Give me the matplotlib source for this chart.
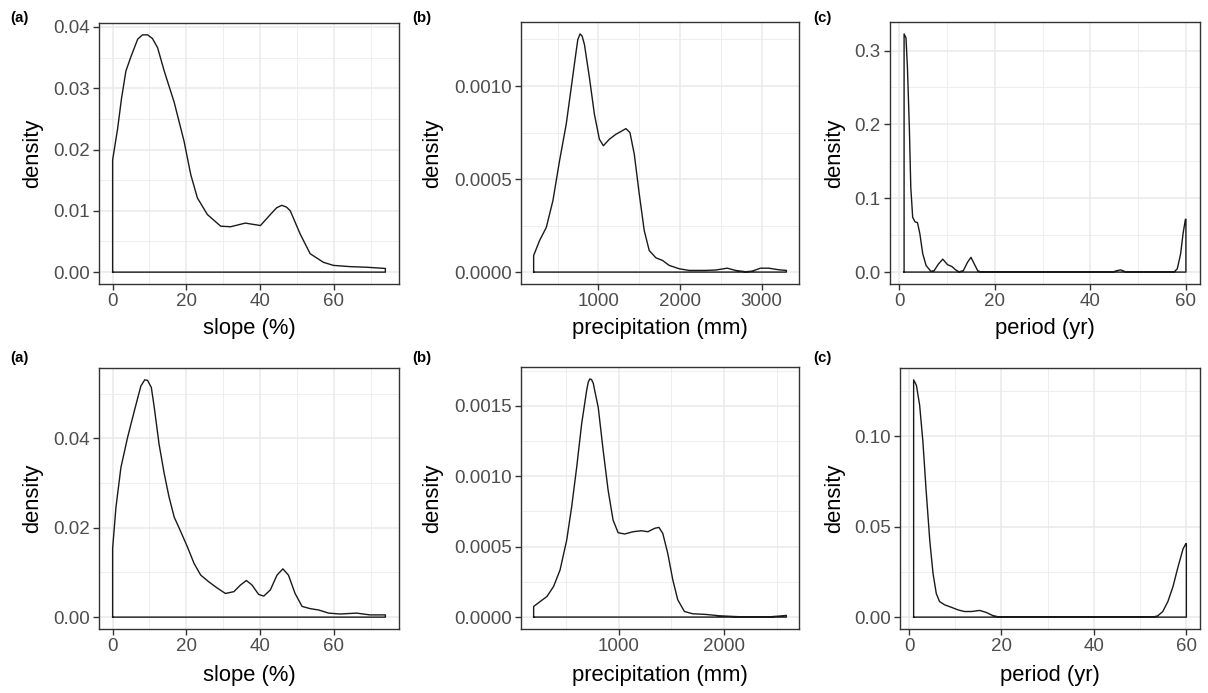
import matplotlib
matplotlib.use("Agg")
import matplotlib.pyplot as plt

plt.rcParams['font.family'] = ['Liberation Sans', 'DejaVu Sans']

W, H = 1208, 693

# ---------------- data ----------------
slope_top_x = [0, 1.35, 2.4, 3.6, 5.0, 5.9, 6.8, 8.1, 9.5, 10.8, 12.2, 14, 16.7, 19.4, 21.2, 23,
               25.7, 29.3, 32, 36, 40.1, 42.8, 44.5, 45.9, 47.2, 48.2, 50.9, 53.6, 57.2, 59.9,
               64.4, 68.9, 74]
slope_top_y = [0.0183, 0.0234, 0.0283, 0.0328, 0.0352, 0.0366, 0.0380, 0.0387, 0.0387, 0.0381,
               0.0366, 0.0328, 0.0277, 0.0213, 0.0159, 0.0121, 0.0094, 0.0075, 0.0074, 0.0080,
               0.0076, 0.0094, 0.0105, 0.0109, 0.0106, 0.0100, 0.0062, 0.0030, 0.0016, 0.0011,
               0.0009, 0.0008, 0.0006]

precip_top_x = [207, 280, 362, 443, 524, 606, 667, 728, 748, 776, 801, 829, 890, 951, 1012, 1061,
                1134, 1215, 1289, 1337, 1386, 1439, 1500, 1561, 1622, 1703, 1785, 1866, 1988,
                2110, 2313, 2435, 2577, 2679, 2801, 2882, 2984, 3085, 3207, 3301]
precip_top_y = [0.089e-3, 0.17e-3, 0.24e-3, 0.384e-3, 0.598e-3, 0.795e-3, 0.991e-3, 1.188e-3,
                1.250e-3, 1.280e-3, 1.268e-3, 1.223e-3, 1.045e-3, 0.848e-3, 0.714e-3, 0.679e-3,
                0.714e-3, 0.741e-3, 0.759e-3, 0.771e-3, 0.750e-3, 0.634e-3, 0.420e-3, 0.223e-3,
                0.116e-3, 0.077e-3, 0.0625e-3, 0.036e-3, 0.018e-3, 0.009e-3, 0.009e-3, 0.011e-3,
                0.021e-3, 0.009e-3, 0.002e-3, 0.005e-3, 0.021e-3, 0.021e-3, 0.0125e-3, 0.009e-3]

period_top_x = [1.0, 1.4, 1.7, 2.1, 2.4, 2.8, 3.3, 3.8, 4.3, 4.9, 5.6, 6.6, 7.3, 8.2, 9.1, 10.1,
                11.0, 11.8, 12.5, 13.4, 14.3, 15.0, 15.7, 16.4, 17.1, 44.6, 45.6, 46.3, 47.4,
                48.1, 57.5, 58.2, 58.9, 59.4, 59.9, 60.0]
period_top_y = [0.3225, 0.317, 0.277, 0.196, 0.115, 0.074, 0.068, 0.067, 0.052, 0.025, 0.009,
                0.001, 0.002, 0.011, 0.0175, 0.010, 0.0076, 0.003, 0.0004, 0.002, 0.0135, 0.020,
                0.011, 0.002, 0.0, 0.0, 0.002, 0.003, 0.0004, 0.0, 0.0, 0.0045, 0.025, 0.052,
                0.0715, 0.0715]

slope_bot_x = [0, 0.9, 2.25, 4.05, 5.9, 7.65, 8.7, 9.46, 10.5, 11.3, 12.6, 14.0, 15.3, 16.7, 18.5,
               20.3, 22.1, 23.9, 26.1, 28.4, 30.6, 32.9, 34.7, 36.3, 37.8, 39.6, 41.0, 42.8, 44.6,
               46.2, 47.7, 49.5, 51.4, 53.6, 55.9, 58.6, 61.7, 66.2, 69.8, 74]
slope_bot_y = [0.0154, 0.0246, 0.0335, 0.0402, 0.0462, 0.0517, 0.0531, 0.0530, 0.0514, 0.0469,
               0.0387, 0.0321, 0.0269, 0.0224, 0.0191, 0.0157, 0.0120, 0.0094, 0.0079, 0.0065,
               0.0053, 0.0057, 0.0072, 0.0082, 0.0072, 0.0051, 0.0047, 0.0061, 0.0094, 0.0108,
               0.0094, 0.0053, 0.0024, 0.0019, 0.0016, 0.0009, 0.0007, 0.0009, 0.0005, 0.0005]

precip_bot_x = [192, 255, 318, 381, 443, 506, 553, 601, 648, 695, 711, 726, 742, 758, 774, 805,
                852, 899, 946, 994, 1057, 1135, 1214, 1277, 1340, 1381, 1418, 1465, 1513, 1560,
                1623, 1701, 1827, 1953, 2079, 2236, 2393, 2519, 2591]
precip_bot_y = [0.0755e-3, 0.111e-3, 0.146e-3, 0.217e-3, 0.335e-3, 0.547e-3, 0.783e-3,
                1.066e-3, 1.373e-3, 1.608e-3, 1.670e-3, 1.691e-3, 1.686e-3, 1.660e-3, 1.600e-3,
                1.490e-3, 1.184e-3, 0.901e-3, 0.689e-3, 0.599e-3, 0.590e-3, 0.606e-3, 0.613e-3,
                0.606e-3, 0.630e-3, 0.637e-3, 0.594e-3, 0.453e-3, 0.264e-3, 0.123e-3, 0.040e-3,
                0.0236e-3, 0.0189e-3, 0.0094e-3, 0.0047e-3, 0.0, 0.0, 0.007e-3, 0.0118e-3]

period_bot_x = [1.0, 1.6, 2.3, 3.0, 3.7, 4.5, 5.2, 5.9, 6.6, 7.7, 9.1, 10.6, 12.0, 13.5, 15.3,
                16.7, 18.1, 19.6, 52.7, 53.8, 54.9, 56.0, 57.1, 58.2, 59.3, 59.9, 60.0]
period_bot_y = [0.131, 0.128, 0.117, 0.097, 0.070, 0.042, 0.024, 0.013, 0.0086, 0.0068, 0.0055,
                0.004, 0.0031, 0.0031, 0.0037, 0.0026, 0.0009, 0.0, 0.0, 0.0007, 0.0031, 0.0086,
                0.0168, 0.0278, 0.0378, 0.0406, 0.0406]

panel_tags = ["(a)", "(b)", "(c)"]
x_titles = ["slope (%)", "precipitation (mm)", "period (yr)"]
y_title = "density"

# ticks
slope_xticks = [0, 20, 40, 60]
slope_xlabels = ["0", "20", "40", "60"]
period_xticks = [0, 20, 40, 60]
period_xlabels = ["0", "20", "40", "60"]
precip_top_xticks = [1000, 2000, 3000]
precip_top_xlabels = ["1000", "2000", "3000"]
precip_bot_xticks = [1000, 2000]
precip_bot_xlabels = ["1000", "2000"]

slope_top_yticks = [0.00, 0.01, 0.02, 0.03, 0.04]
slope_top_ylabels = ["0.00", "0.01", "0.02", "0.03", "0.04"]
precip_top_yticks = [0.0, 0.0005, 0.0010]
precip_top_ylabels = ["0.0000", "0.0005", "0.0010"]
period_top_yticks = [0.0, 0.1, 0.2, 0.3]
period_top_ylabels = ["0.0", "0.1", "0.2", "0.3"]
slope_bot_yticks = [0.00, 0.02, 0.04]
slope_bot_ylabels = ["0.00", "0.02", "0.04"]
precip_bot_yticks = [0.0, 0.0005, 0.0010, 0.0015]
precip_bot_ylabels = ["0.0000", "0.0005", "0.0010", "0.0015"]
period_bot_yticks = [0.00, 0.05, 0.10]
period_bot_ylabels = ["0.00", "0.05", "0.10"]

# ---------------- layout (pixel boxes: left, right, top, bottom) ----------------
boxes = [
    (99, 399, 23, 284), (521, 799, 22, 284), (890, 1200, 22, 284),
    (99, 399, 368, 629), (521, 799, 367, 629), (900, 1200, 368, 629),
]

panels = [
    (slope_top_x, slope_top_y, slope_xticks, slope_xlabels, slope_top_yticks, slope_top_ylabels),
    (precip_top_x, precip_top_y, precip_top_xticks, precip_top_xlabels, precip_top_yticks, precip_top_ylabels),
    (period_top_x, period_top_y, period_xticks, period_xlabels, period_top_yticks, period_top_ylabels),
    (slope_bot_x, slope_bot_y, slope_xticks, slope_xlabels, slope_bot_yticks, slope_bot_ylabels),
    (precip_bot_x, precip_bot_y, precip_bot_xticks, precip_bot_xlabels, precip_bot_yticks, precip_bot_ylabels),
    (period_bot_x, period_bot_y, period_xticks, period_xlabels, period_bot_yticks, period_bot_ylabels),
]

fig = plt.figure(figsize=(W / 100, H / 100), dpi=100)

TICK_COLOR = "#4D4D4D"
FRAME = "#333333"
GRID = "#EBEBEB"


def minor_between(ticks, lo, hi):
    step = ticks[1] - ticks[0]
    out = []
    t = ticks[0] - step / 2
    while t <= hi:
        if t >= lo and all(abs(t - m) > 1e-12 for m in ticks):
            out.append(t)
        t += step
    return out


for i, ((xs, ys, xt, xl, yt, yl), (L, R, T, B)) in enumerate(zip(panels, boxes)):
    ax = fig.add_axes([L / W, 1 - B / H, (R - L) / W, (B - T) / H])
    px = [xs[0]] + list(xs) + [xs[-1], xs[0]]
    py = [0.0] + list(ys) + [0.0, 0.0]
    ax.plot(px, py, color="#1A1A1A", lw=1.0, solid_joinstyle="round", zorder=3)

    xr = max(xs) - min(xs)
    yr = max(ys)
    xlim = (min(xs) - 0.05 * xr, max(xs) + 0.05 * xr)
    ylim = (-0.05 * yr, yr * 1.05)

    ax.set_xticks(xt)
    ax.set_xticklabels(xl)
    ax.set_yticks(yt)
    ax.set_yticklabels(yl)
    ax.set_xticks(minor_between(xt, xlim[0], xlim[1]), minor=True)
    ax.set_yticks(minor_between(yt, ylim[0], ylim[1]), minor=True)
    ax.set_xlim(xlim)
    ax.set_ylim(ylim)

    ax.set_axisbelow(True)
    ax.grid(which="major", color=GRID, lw=1.2)
    ax.grid(which="minor", color=GRID, lw=0.6)
    ax.tick_params(which="major", length=4.3, width=1.0, color=FRAME,
                   labelsize=13.5, labelcolor=TICK_COLOR, pad=2.5)
    ax.tick_params(which="minor", length=0)
    for s in ax.spines.values():
        s.set_color(FRAME)
        s.set_linewidth(1.0)

    col = i % 3
    # panel tag
    tag_x = [19, 422, 822][col]
    tag_y = 18 if i < 3 else 358
    fig.text(tag_x / W, 1 - tag_y / H, panel_tags[col], fontsize=10.8, fontweight="bold",
             ha="center", va="center")
    # y title
    ylab_x = [33, 433, 835][col]
    fig.text(ylab_x / W, 1 - ((T + B) / 2) / H, y_title, rotation=90, fontsize=15.8,
             ha="center", va="center")
    # x title
    xlab_y = 329 if i < 3 else 676
    fig.text(((L + R) / 2) / W, 1 - xlab_y / H, x_titles[col], fontsize=15.8,
             ha="center", va="center")

fig.savefig("out.png", dpi=100)
